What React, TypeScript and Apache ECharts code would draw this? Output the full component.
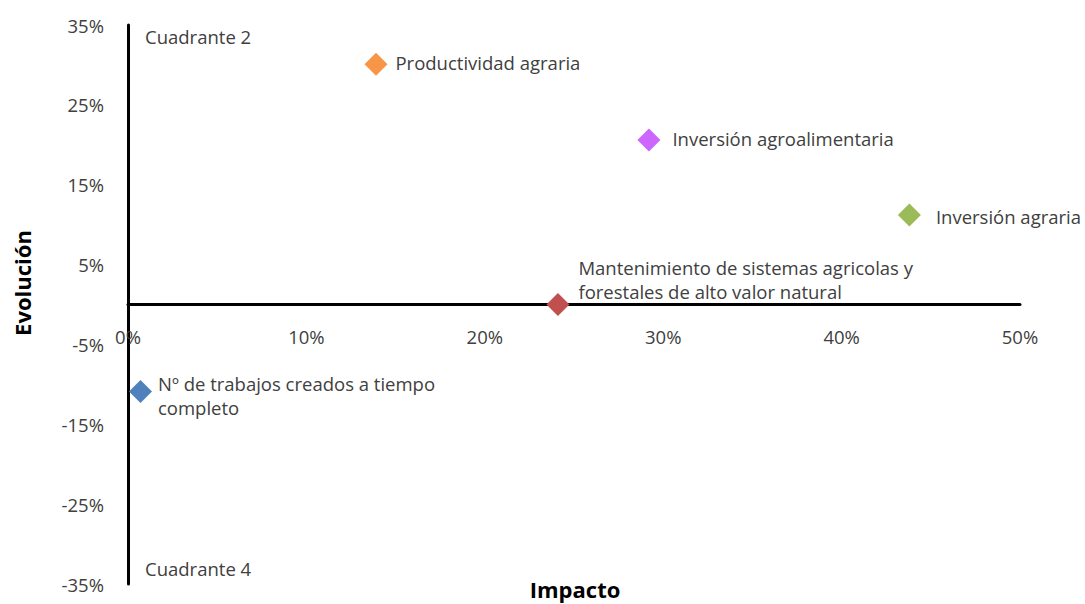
import React, { useEffect, useRef } from "react";
import * as echarts from "echarts";

const names = [
  "Nº de trabajos creados a tiempo\ncompleto",
  "Productividad agraria",
  "Inversión agroalimentaria",
  "Inversión agraria",
  "Mantenimiento de sistemas agricolas y\nforestales de alto valor natural",
];
const impacto = [0.7, 13.9, 29.2, 43.8, 24.1];
const evolucion = [-10.9, 30.1, 20.6, 11.2, 0];
const colors = ["#4F81BD", "#F79646", "#CC66FF", "#9BBB59", "#C0504D"];
const labelOffsets = [
  [-4, 4],
  [-2, -2],
  [2, -1],
  [5, 1],
  [-1, -25],
];
const yTicks = [-35, -25, -15, -5, 5, 15, 25, 35];
const quadrantLabels = ["Cuadrante 2", "Cuadrante 4"];

const FONT = "'Open Sans'";
const FS = 18.5;

export default function App() {
  const ref = useRef<HTMLDivElement>(null);
  useEffect(() => {
    document.body.style.margin = "0";
    if (!ref.current) return;
    const chart = echarts.init(ref.current, null, { renderer: "svg" });
    const gridTop = 25;
    const gridBottom = 20;
    const plotH = 604 - gridTop - gridBottom;
    const zeroFromBottom = (plotH * 35) / 70;
    const data = names.map((n, i) => ({
      name: n,
      value: [impacto[i], evolucion[i]],
      itemStyle: { color: colors[i], opacity: 1 },
      label: {
        show: true,
        position: "right",
        distance: 10,
        offset: labelOffsets[i],
        formatter: n,
        color: "#404040",
        fontSize: FS,
        fontFamily: FONT,
        lineHeight: 24,
        align: "left",
      },
    }));
    chart.setOption({
      animation: false,
      grid: { left: 128, right: 65, top: gridTop, bottom: gridBottom, outerBoundsMode: "none", containLabel: false },
      xAxis: {
        type: "value",
        position: "bottom",
        offset: -zeroFromBottom,
        min: 0,
        max: 50,
        interval: 10,
        axisLine: { onZero: false, lineStyle: { color: "#000", width: 3 } },
        axisTick: { show: false },
        splitLine: { show: false },
        axisLabel: {
          margin: 22,
          formatter: (v: number) => v + "%",
          color: "#404040",
          fontSize: FS,
          fontFamily: FONT,
        },
      },
      yAxis: {
        type: "value",
        min: -35,
        max: 35,
        axisLine: { onZero: false, lineStyle: { color: "#000", width: 3 } },
        axisTick: { show: false },
        splitLine: { show: false },
        axisLabel: {
          customValues: yTicks,
          margin: 24,
          formatter: (v: number) => v + "%",
          color: "#404040",
          fontSize: FS,
          fontFamily: FONT,
        },
      },
      graphic: [
        {
          type: "text",
          left: 145,
          top: 27,
          style: { text: quadrantLabels[0], fill: "#404040", font: `${FS}px ${FONT}` },
        },
        {
          type: "text",
          left: 145,
          top: 559,
          style: { text: quadrantLabels[1], fill: "#404040", font: `${FS}px ${FONT}` },
        },
        {
          type: "text",
          x: 22,
          y: 283,
          rotation: Math.PI / 2,
          style: {
            text: "Evolución",
            fill: "#000",
            font: `bold 22px ${FONT}`,
            align: "center",
            verticalAlign: "middle",
          },
        },
        {
          type: "text",
          x: 575,
          y: 589,
          style: {
            text: "Impacto",
            fill: "#000",
            font: `bold 22px ${FONT}`,
            align: "center",
            verticalAlign: "middle",
          },
        },
      ],
      series: [
        {
          type: "scatter",
          symbol: "diamond",
          symbolSize: 23,
          data,
        },
      ],
    });
    return () => chart.dispose();
  }, []);
  return <div ref={ref} style={{ width: 1085, height: 604 }} />;
}
